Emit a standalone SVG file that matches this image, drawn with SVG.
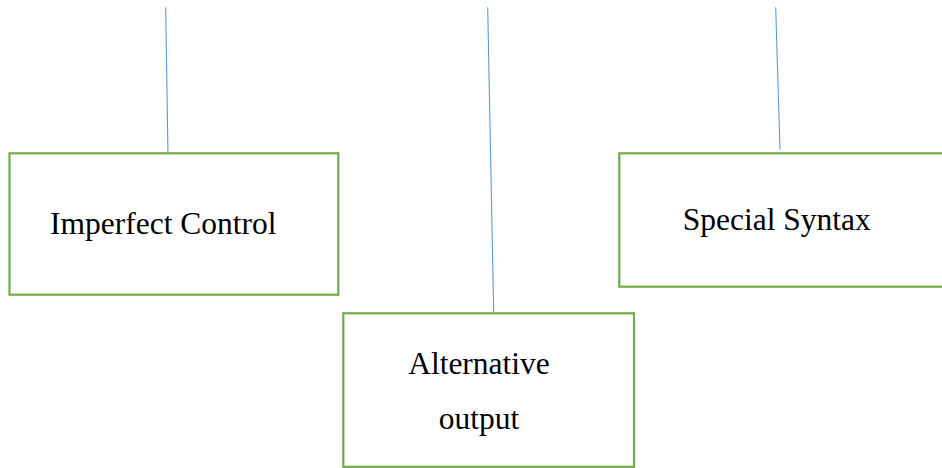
<svg xmlns="http://www.w3.org/2000/svg" width="942" height="468" viewBox="0 0 942 468">
<style>
.box{fill:#ffffff;stroke:#70AD47;stroke-width:2.2}
.lbl{font-family:"Liberation Serif","Times New Roman",serif;font-size:31.5px;fill:#000000}
.conn{stroke:#5B9BD5;stroke-width:1.1;fill:none}
</style>
<rect width="942" height="468" fill="#ffffff"/>
<g id="connectors">
<line class="conn" x1="165.7" y1="7.3" x2="168" y2="156.7"/>
<line class="conn" x1="487.7" y1="7.3" x2="493.7" y2="312"/>
<line class="conn" x1="775.7" y1="7.3" x2="780" y2="149.5"/>
</g>
<g id="imperfect-control">
<rect class="box" x="9.5" y="153.3" width="328.8" height="141.4"/>
<text class="lbl" x="50" y="234">Imperfect Control</text>
</g>
<g id="alternative-output">
<rect class="box" x="343.3" y="313.3" width="290.7" height="153.5"/>
<text class="lbl" x="479" y="373.5" text-anchor="middle">Alternative</text>
<text class="lbl" x="479" y="428.5" text-anchor="middle">output</text>
</g>
<g id="special-syntax">
<rect class="box" x="619.3" y="153.3" width="330" height="133.4"/>
<text class="lbl" x="682.7" y="230">Special Syntax</text>
</g>
</svg>
